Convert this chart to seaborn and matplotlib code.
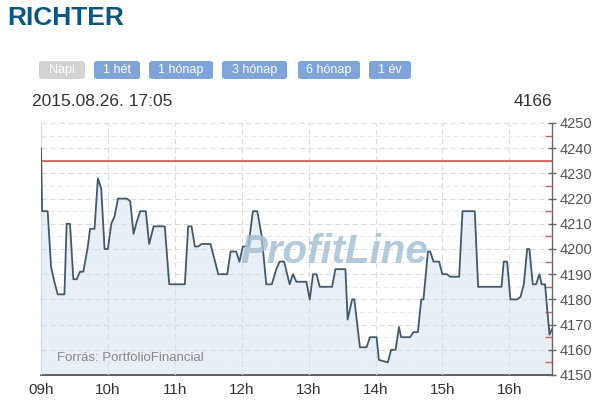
import matplotlib
matplotlib.use("Agg")
import matplotlib.pyplot as plt
from matplotlib.patches import FancyBboxPatch
import seaborn as sns
import pandas as pd
import numpy as np

# ---- data ----
times = ["09:00", "09:01", "09:06", "09:09", "09:12", "09:15", "09:21", "09:23", "09:26", "09:29",
         "09:32", "09:35", "09:38", "09:42", "09:44", "09:48", "09:51", "09:54", "09:57", "10:00",
         "10:03", "10:06", "10:09", "10:17", "10:20", "10:23", "10:26", "10:29", "10:34", "10:37",
         "10:41", "10:51", "10:55", "11:09", "11:12", "11:15", "11:18", "11:21", "11:24", "11:32",
         "11:39", "11:47", "11:50", "11:55", "11:58", "12:01", "12:06", "12:10", "12:14", "12:18",
         "12:22", "12:27", "12:31", "12:34", "12:38", "12:43", "12:46", "12:49", "12:58", "13:01",
         "13:04", "13:07", "13:10", "13:21", "13:24", "13:33", "13:35", "13:39", "13:41", "13:46",
         "13:52", "13:55", "14:01", "14:03", "14:11", "14:14", "14:18", "14:21", "14:23", "14:31",
         "14:34", "14:38", "14:41", "14:43", "14:47", "14:49", "14:52", "14:57", "15:00", "15:04",
         "15:07", "15:15", "15:18", "15:29", "15:32", "15:53", "15:55", "15:58", "16:01", "16:07",
         "16:10", "16:13", "16:16", "16:18", "16:21", "16:24", "16:27", "16:29", "16:32", "16:36",
         "16:38"]
prices = [4240, 4215, 4215, 4193, 4187, 4182, 4182, 4210, 4210, 4188,
          4188, 4191, 4191, 4201, 4208, 4208, 4228, 4224, 4200, 4200,
          4210, 4213, 4220, 4220, 4219, 4206, 4211, 4215, 4215, 4202,
          4209, 4209, 4186, 4186, 4209, 4209, 4201, 4201, 4202, 4202,
          4190, 4190, 4199, 4199, 4195, 4201, 4201, 4215, 4215, 4205,
          4186, 4186, 4192, 4195, 4195, 4186, 4190, 4187, 4187, 4180,
          4190, 4190, 4185, 4185, 4192, 4192, 4172, 4180, 4180, 4161,
          4161, 4165, 4165, 4156, 4155, 4160, 4160, 4169, 4165, 4165,
          4167, 4167, 4180, 4180, 4199, 4199, 4195, 4195, 4190, 4190,
          4189, 4189, 4215, 4215, 4185, 4185, 4195, 4195, 4180, 4180,
          4181, 4186, 4200, 4200, 4186, 4186, 4190, 4186, 4186, 4166,
          4168]
reference_price = 4235
hour_labels = ["09h", "10h", "11h", "12h", "13h", "14h", "15h", "16h"]
y_ticks = [4150, 4160, 4170, 4180, 4190, 4200, 4210, 4220, 4230, 4240, 4250]
buttons = ["Napi", "1 hét", "1 hónap", "3 hónap", "6 hónap", "1 év"]
title = "RICHTER"
timestamp = "2015.08.26. 17:05"
last_price = "4166"
source = "Forrás: PortfolioFinancial"
watermark = "ProfitLine"

def to_min(t):
    h, m = t.split(":")
    return (int(h) - 9) * 60 + int(m)

df = pd.DataFrame({"minute": [to_min(t) for t in times], "price": prices})

# ---- figure ----
sns.set_style("white")
plt.rcParams['font.family'] = ['Liberation Sans', 'DejaVu Sans']
W, H = 605, 405
fig = plt.figure(figsize=(W / 100, H / 100), dpi=100)
fig.patch.set_facecolor("white")

L, R, T, B = 41, 551.7, 123, 375
ax = fig.add_axes([L / W, 1 - B / H, (R - L) / W, (B - T) / H])
ax.set_facecolor("white")

ax.fill_between(df["minute"], df["price"], 4150, color="#e8eff6", zorder=1, linewidth=0)
sns.lineplot(data=df, x="minute", y="price", ax=ax, color="#44596a", linewidth=1.3, zorder=4)
ax.axhline(reference_price, color="#d9605a", linewidth=1.3, zorder=3)

ax.set_xlim(0, 458)
ax.set_ylim(4150, 4250)
ax.set_xticks([60 * i for i in range(len(hour_labels))])
ax.set_xticklabels(hour_labels)
ax.set_yticks(y_ticks)
ax.set_yticks(np.arange(4155, 4250, 10), minor=True)
ax.yaxis.tick_right()
ax.yaxis.set_label_position("right")
ax.set_xlabel("")
ax.set_ylabel("")

# grid
ax.grid(True, which="major", axis="both", color="#dcdcdc", linestyle=(0, (5, 3)), linewidth=0.8, zorder=2)
ax.grid(True, which="minor", axis="y", color="#e8e8e8", linestyle=(0, (5, 3)), linewidth=0.7, zorder=2)
ax.set_axisbelow(False)
for gl in ax.get_xgridlines() + ax.get_ygridlines():
    gl.set_zorder(2)

ax.spines["top"].set_visible(False)
ax.spines["left"].set_color("#d0d0d0")
ax.spines["left"].set_linewidth(0.8)
ax.spines["right"].set_color("#666666")
ax.spines["right"].set_linewidth(1.0)
ax.spines["bottom"].set_color("#444444")
ax.spines["bottom"].set_linewidth(1.2)

ax.tick_params(axis="x", which="major", direction="out", length=5, width=1, color="#444444",
               labelsize=11, labelcolor="#333333", pad=1)
ax.tick_params(axis="y", which="major", direction="inout", length=6, width=1, color="#666666",
               labelsize=10.5, labelcolor="#555555", pad=3, right=True, left=False)
ax.tick_params(axis="y", which="minor", direction="in", length=5, width=1, color="#d9605a",
               right=True, left=False)

# texts inside plot
ax.text((334 - L) / (R - L), 1 - (252 - T) / (B - T), watermark, transform=ax.transAxes,
        ha="center", va="center", fontsize=29, fontweight="bold", fontstyle="italic",
        color="#a6c1d5", alpha=0.85, zorder=5)
ax.text((57 - L) / (R - L), 1 - (358 - T) / (B - T), source, transform=ax.transAxes,
        ha="left", va="center", fontsize=9.5, color="#888888", zorder=5)

# header
fig.text(7 / W, 1 - 18 / H, title, ha="left", va="center", fontsize=19, fontweight="bold",
         color="#0b5582")

btn_x = [(39, 85), (94, 140), (149, 213), (222, 287), (298, 360), (369, 411)]
for i, (label, (x0, x1)) in enumerate(zip(buttons, btn_x)):
    face = "#d3d3d3" if i == 0 else "#7ea4da"
    patch = FancyBboxPatch((x0 / W, 1 - 79 / H), (x1 - x0) / W, 18 / H,
                           boxstyle="round,pad=0,rounding_size=0.006",
                           transform=fig.transFigure, facecolor=face, edgecolor="none")
    fig.add_artist(patch)
    fig.text((x0 + x1) / 2 / W, 1 - 70 / H, label, ha="center", va="center", fontsize=9,
             color="white")

fig.text(32 / W, 1 - 101 / H, timestamp, ha="left", va="center", fontsize=12.5, color="#333333")
fig.text(552 / W, 1 - 101 / H, last_price, ha="right", va="center", fontsize=12.5, color="#333333")

fig.savefig("out.png", dpi=100, facecolor="white")
